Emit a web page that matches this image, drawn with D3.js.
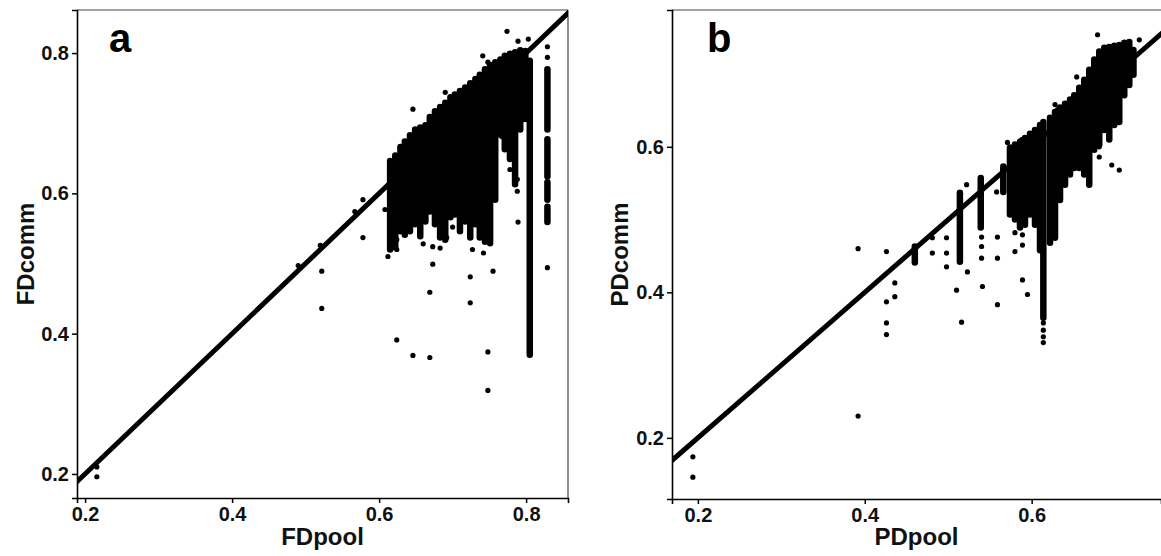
<!DOCTYPE html>
<html>
<head>
<meta charset="utf-8">
<script src="https://cdn.jsdelivr.net/npm/d3@7"></script>
<style>
  html, body { margin: 0; padding: 0; background: #fff; }
  svg { display: block; }
  text { font-family: "Liberation Sans", Arial, Helvetica, sans-serif; }
</style>
</head>
<body>
<svg id="chart" width="1161" height="556"></svg>
<script>
// ---------- DATA ----------
const fdTicksX = [0.2, 0.4, 0.6, 0.8];
const fdTicksY = [0.2, 0.4, 0.6, 0.8];
const pdTicksX = [0.2, 0.4, 0.6];
const pdTicksY = [0.2, 0.4, 0.6];

// dense vertical columns of points: [pool value, lowest comm, highest comm]
const fdStreaks = [
  [0.615, 0.520, 0.646], [0.622, 0.523, 0.654], [0.629, 0.546, 0.666],
  [0.635, 0.541, 0.674], [0.642, 0.546, 0.683], [0.649, 0.556, 0.691],
  [0.656, 0.539, 0.694], [0.663, 0.560, 0.697], [0.669, 0.574, 0.709],
  [0.676, 0.556, 0.717], [0.683, 0.537, 0.723], [0.690, 0.534, 0.729],
  [0.697, 0.566, 0.737], [0.703, 0.570, 0.741], [0.710, 0.546, 0.746],
  [0.717, 0.560, 0.751], [0.724, 0.537, 0.757], [0.731, 0.556, 0.763],
  [0.737, 0.537, 0.769], [0.744, 0.531, 0.777], [0.751, 0.529, 0.783],
  [0.758, 0.591, 0.787], [0.765, 0.684, 0.791], [0.771, 0.663, 0.796],
  [0.778, 0.649, 0.799], [0.785, 0.613, 0.801], [0.792, 0.691, 0.804],
  [0.799, 0.706, 0.803], [0.805, 0.370, 0.789],
  [0.829, 0.691, 0.777], [0.829, 0.624, 0.677], [0.829, 0.591, 0.616],
  [0.829, 0.559, 0.581]
];
// isolated points: [pool, comm]
const fdPoints = [
  [0.216, 0.210], [0.216, 0.196], [0.490, 0.497], [0.520, 0.526], [0.522, 0.489],
  [0.522, 0.436], [0.567, 0.574], [0.578, 0.591], [0.578, 0.537], [0.608, 0.577],
  [0.624, 0.534], [0.624, 0.520], [0.646, 0.720], [0.690, 0.744], [0.673, 0.524],
  [0.673, 0.499], [0.692, 0.537], [0.724, 0.481], [0.755, 0.489], [0.789, 0.559],
  [0.774, 0.831], [0.789, 0.817], [0.803, 0.820], [0.741, 0.796], [0.748, 0.787],
  [0.778, 0.663], [0.767, 0.681], [0.778, 0.634], [0.788, 0.620], [0.788, 0.603],
  [0.829, 0.494], [0.669, 0.459], [0.724, 0.444], [0.624, 0.391], [0.646, 0.369],
  [0.669, 0.366], [0.748, 0.374], [0.748, 0.319], [0.805, 0.384], [0.805, 0.372],
  [0.829, 0.809], [0.829, 0.794], [0.612, 0.510], [0.660, 0.528], [0.700, 0.552],
  [0.727, 0.520], [0.742, 0.515], [0.683, 0.522]
];

const pdStreaks = [
  [0.460, 0.441, 0.463], [0.514, 0.442, 0.537], [0.539, 0.489, 0.557],
  [0.566, 0.538, 0.573], [0.574, 0.507, 0.599], [0.580, 0.500, 0.603],
  [0.586, 0.489, 0.607], [0.592, 0.493, 0.612], [0.598, 0.507, 0.618],
  [0.604, 0.493, 0.623], [0.610, 0.458, 0.630], [0.614, 0.365, 0.634],
  [0.622, 0.468, 0.640], [0.628, 0.475, 0.648], [0.634, 0.527, 0.654],
  [0.640, 0.548, 0.659], [0.646, 0.562, 0.665], [0.651, 0.571, 0.671],
  [0.657, 0.571, 0.681], [0.663, 0.562, 0.692], [0.669, 0.548, 0.706],
  [0.675, 0.596, 0.720], [0.681, 0.603, 0.731], [0.687, 0.623, 0.736],
  [0.693, 0.610, 0.737], [0.699, 0.630, 0.739], [0.705, 0.634, 0.740],
  [0.711, 0.671, 0.743], [0.717, 0.685, 0.744], [0.722, 0.699, 0.733]
];
const pdPoints = [
  [0.194, 0.174], [0.194, 0.146], [0.392, 0.230], [0.392, 0.460], [0.426, 0.456],
  [0.426, 0.387], [0.426, 0.358], [0.426, 0.342], [0.436, 0.394], [0.436, 0.413],
  [0.481, 0.475], [0.481, 0.454], [0.498, 0.475], [0.498, 0.454], [0.498, 0.435],
  [0.510, 0.403], [0.516, 0.359], [0.523, 0.428], [0.522, 0.548], [0.541, 0.408],
  [0.540, 0.476], [0.540, 0.463], [0.540, 0.447], [0.558, 0.538], [0.559, 0.476],
  [0.559, 0.447], [0.559, 0.383], [0.580, 0.482], [0.580, 0.456], [0.589, 0.479],
  [0.589, 0.465], [0.589, 0.417], [0.595, 0.397], [0.614, 0.358], [0.614, 0.348],
  [0.614, 0.339], [0.614, 0.331], [0.571, 0.606], [0.588, 0.610], [0.628, 0.658],
  [0.631, 0.651], [0.654, 0.696], [0.679, 0.754], [0.681, 0.600], [0.681, 0.586],
  [0.696, 0.575], [0.705, 0.568], [0.729, 0.747]
];

// ---------- DRAW ----------
const svg = d3.select("#chart");

function panel(opts) {
  const x = d3.scaleLinear().domain(opts.xDomain).range([opts.left, opts.right]);
  const y = d3.scaleLinear().domain(opts.yDomain).range([opts.bottom, opts.top]);
  const g = svg.append("g");
  const clipId = "clip-" + opts.id;
  g.append("clipPath").attr("id", clipId).append("rect")
    .attr("x", opts.left).attr("y", opts.top)
    .attr("width", opts.right - opts.left).attr("height", opts.bottom - opts.top);

  // frame (top / right)
  g.append("line").attr("x1", opts.left).attr("x2", opts.right)
    .attr("y1", opts.top).attr("y2", opts.top)
    .attr("stroke", "#444").attr("stroke-width", 1.2);
  if (opts.rightBorder) {
    g.append("line").attr("x1", opts.right).attr("x2", opts.right)
      .attr("y1", opts.top).attr("y2", opts.bottom)
      .attr("stroke", "#444").attr("stroke-width", 1.2);
  }

  const plot = g.append("g").attr("clip-path", `url(#${clipId})`);

  // 1:1 line
  const lo = Math.min(opts.xDomain[0], opts.yDomain[0]);
  const hi = Math.max(opts.xDomain[1], opts.yDomain[1]);
  plot.append("line")
    .attr("x1", x(lo)).attr("y1", y(lo))
    .attr("x2", x(hi)).attr("y2", y(hi))
    .attr("stroke", "#000").attr("stroke-width", 5);

  // dense columns
  plot.selectAll("line.streak").data(opts.streaks).join("line")
    .attr("class", "streak")
    .attr("x1", d => x(d[0])).attr("x2", d => x(d[0]))
    .attr("y1", d => y(d[1])).attr("y2", d => y(d[2]))
    .attr("stroke", "#000").attr("stroke-width", 6.5)
    .attr("stroke-linecap", "round");

  // isolated points
  plot.selectAll("circle").data(opts.points).join("circle")
    .attr("cx", d => x(d[0])).attr("cy", d => y(d[1]))
    .attr("r", 2.6).attr("fill", "#000");

  // axes
  const ax = g.append("g").attr("transform", `translate(0,${opts.bottom})`)
    .call(d3.axisBottom(x).tickValues(opts.xTicks).tickFormat(d3.format(".1f")).tickSize(5).tickPadding(4));
  const ay = g.append("g").attr("transform", `translate(${opts.left},0)`)
    .call(d3.axisLeft(y).tickValues(opts.yTicks).tickFormat(d3.format(".1f")).tickSize(5).tickPadding(3));
  [ax, ay].forEach(a => {
    a.select(".domain").attr("stroke", "#000").attr("stroke-width", 1.6);
    a.selectAll(".tick line").attr("stroke", "#000").attr("stroke-width", 1.5);
    a.selectAll(".tick text").attr("fill", "#111")
      .style("font-size", "20px").style("font-weight", "bold")
      .style("font-family", "'Liberation Sans', Arial, sans-serif");
  });

  // axis titles
  g.append("text").attr("x", (opts.left + opts.right) / 2).attr("y", 545)
    .attr("text-anchor", "middle").style("font-size", "24px").style("font-weight", "bold")
    .attr("fill", "#111").text(opts.xTitle);
  g.append("text")
    .attr("transform", `translate(${opts.yTitleX},${(opts.top + opts.bottom) / 2}) rotate(-90)`)
    .attr("text-anchor", "middle").style("font-size", "24px").style("font-weight", "bold")
    .attr("fill", "#111").text(opts.yTitle);

  // panel letter
  g.append("text").attr("x", opts.letterX).attr("y", 52)
    .style("font-size", "40px").style("font-weight", "bold")
    .attr("fill", "#000").text(opts.letter);
}

panel({
  id: "a", left: 77, right: 568, top: 10, bottom: 498,
  xDomain: [0.189, 0.857], yDomain: [0.1657, 0.8614],
  xTicks: fdTicksX, yTicks: fdTicksY,
  streaks: fdStreaks, points: fdPoints,
  xTitle: "FDpool", yTitle: "FDcomm", yTitleX: 34,
  letter: "a", letterX: 109, rightBorder: true
});

panel({
  id: "b", left: 672, right: 1161, top: 10, bottom: 499,
  xDomain: [0.169, 0.755], yDomain: [0.116, 0.788],
  xTicks: pdTicksX, yTicks: pdTicksY,
  streaks: pdStreaks, points: pdPoints,
  xTitle: "PDpool", yTitle: "PDcomm", yTitleX: 628,
  letter: "b", letterX: 707, rightBorder: false
});
</script>
</body>
</html>
